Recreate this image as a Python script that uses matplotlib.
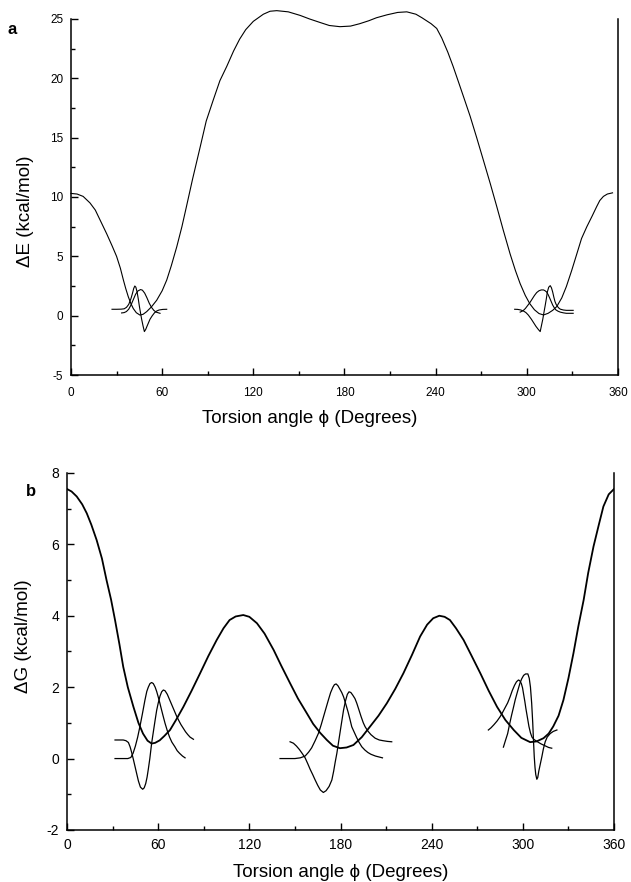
import matplotlib
matplotlib.use("Agg")
import matplotlib.pyplot as plt
from matplotlib.ticker import MultipleLocator

plt.rcParams["font.family"] = ["Liberation Sans", "DejaVu Sans"]
plt.rcParams["axes.unicode_minus"] = False

# ── panel a: ΔE scan (main) + small overlay curves ──────────────────────
A_MAIN_X = [0, 4, 8, 12.5, 16, 19, 23.5, 27, 30, 32.5, 34.5, 36, 37.7, 39.5, 41, 43, 45.4, 47.5,
            49.8, 53, 56.4, 60, 63, 66, 69.6, 73, 76, 80, 85, 89, 93.7, 98, 102.5, 107, 111, 115,
            120, 126.6, 131, 135.4, 143, 150.8, 157, 164, 170, 177, 184, 190, 196, 201, 208,
            215, 221, 227, 231, 234, 237, 240.7, 244, 248, 251.5, 255, 259, 262.7, 267, 271.4,
            276, 280.2, 284.5, 289, 292.5, 295.6, 299, 302, 305, 308, 311, 314, 317, 319.7,
            323, 326, 329.5, 333, 336, 339.5, 343, 346, 348, 350.4, 353, 356.4]
A_MAIN_Y = [10.3, 10.25, 10.05, 9.5, 8.9, 8.1, 6.9, 5.9, 5.0, 4.0, 3.0, 2.3, 1.6, 1.0, 0.6, 0.25, 0.05, 0.12,
            0.34, 0.75, 1.3, 2.1, 3.0, 4.2, 5.8, 7.5, 9.2, 11.5, 14.2, 16.4, 18.2, 19.8, 21.0, 22.3, 23.3, 24.1,
            24.8, 25.4, 25.65, 25.7, 25.6, 25.3, 25.0, 24.7, 24.45, 24.35, 24.4, 24.6, 24.85, 25.1, 25.35,
            25.55, 25.6, 25.4, 25.1, 24.85, 24.6, 24.2, 23.4, 22.2, 21.0, 19.7, 18.2, 16.8, 15.0, 13.1,
            11.1, 9.2, 7.2, 5.2, 3.8, 2.7, 1.7, 1.0, 0.5, 0.18, 0.06, 0.2, 0.45, 0.77,
            1.5, 2.45, 3.8, 5.25, 6.5, 7.5, 8.4, 9.2, 9.7, 10.05, 10.25, 10.35]

A_L1_X = [27, 30, 33, 35, 36.5, 38, 39.5, 40.5, 41.3, 42, 42.7, 43.5, 44.3, 45, 45.8, 46.5, 47.4,
          48.3, 49.2, 50, 51, 52, 53.5, 55, 56.5, 58, 60.5, 63]
A_L1_Y = [0.54, 0.54, 0.55, 0.58, 0.7, 0.95, 1.45, 1.9, 2.3, 2.5, 2.4, 2.0, 1.4, 0.8, 0.2, -0.3, -0.85,
          -1.34, -1.15, -0.9, -0.6, -0.3, 0.0, 0.25, 0.4, 0.48, 0.53, 0.54]
A_L2_X = [33.3, 35, 36.5, 38, 39.5, 41, 42.5, 44, 45.8, 47, 48.5, 50, 51.5, 53, 54.5, 56, 58.6]
A_L2_Y = [0.23, 0.26, 0.35, 0.55, 0.9, 1.35, 1.8, 2.08, 2.2, 2.15, 1.9, 1.5, 1.05, 0.7, 0.45, 0.3, 0.2]

A_R1_X = [292, 294, 296, 298, 299.5, 301, 303, 304.5, 306, 307.5, 308.8, 309.6, 310.5, 311.3, 312,
          312.8, 313.5, 314.4, 315.4, 316.2, 317, 317.8, 318.5, 319.3, 320, 321, 322, 324, 326, 330.5]
A_R1_Y = [0.54, 0.53, 0.48, 0.38, 0.25, 0.05, -0.3, -0.6, -0.9, -1.15, -1.34, -0.85, -0.3, 0.3, 0.8,
          1.4, 2.0, 2.4, 2.53, 2.35, 2.0, 1.55, 1.2, 0.95, 0.8, 0.65, 0.55, 0.48, 0.45, 0.45]
A_R2_X = [295.6, 297.5, 299, 300.5, 302, 303.5, 305, 306.5, 308, 309.5, 311, 312, 313, 314, 315,
          316, 317, 318, 319, 320.5, 322, 324, 326, 330.5]
A_R2_Y = [0.3, 0.42, 0.6, 0.85, 1.1, 1.4, 1.7, 1.95, 2.1, 2.17, 2.17, 2.1, 2.0, 1.78, 1.5,
          1.2, 0.9, 0.68, 0.5, 0.38, 0.3, 0.24, 0.2, 0.2]

# ── panel b: ΔG scan (main) + small overlay curves ──────────────────────
B_MAIN_X = [0, 3, 6.4, 10, 13, 16, 19.5, 23, 26, 29, 31.6, 34.5, 37, 40, 43.7, 47, 50, 53, 55.7, 58,
            61, 64, 67.8, 72, 76.6, 82, 87.6, 93, 98.5, 103, 107, 111, 116, 120, 125, 130, 136, 141,
            146.8, 152, 157.8, 162, 166.6, 171, 175, 179.6, 184, 188.5, 194, 199.5, 205, 210.5, 216,
            221.4, 227, 232.4, 237, 241, 245, 248.5, 252, 256, 261, 266, 272, 277.5, 283, 288.5,
            294, 299, 304.8, 309, 313.6, 317, 320, 323.5, 326.7, 330, 333.3, 336.5, 340, 343,
            346.5, 350, 353, 356.5, 360]
B_MAIN_Y = [7.55, 7.48, 7.34, 7.12, 6.87, 6.55, 6.12, 5.6, 5.0, 4.45, 3.88, 3.2, 2.57, 2.0, 1.45, 1.0, 0.7,
            0.5, 0.42, 0.44, 0.51, 0.63, 0.8, 1.1, 1.45, 1.9, 2.39, 2.87, 3.32, 3.65, 3.88, 3.98, 4.02,
            3.97, 3.79, 3.5, 3.04, 2.6, 2.11, 1.68, 1.27, 0.97, 0.72, 0.52, 0.36, 0.29, 0.31, 0.38, 0.6,
            0.9, 1.2, 1.55, 1.95, 2.39, 2.9, 3.42, 3.75, 3.93, 4.0, 3.97, 3.88, 3.65, 3.32, 2.9, 2.39,
            1.9, 1.45, 1.08, 0.8, 0.58, 0.46, 0.48, 0.57, 0.7, 0.9, 1.2, 1.64, 2.25, 2.95, 3.7, 4.44,
            5.2, 5.94, 6.55, 7.06, 7.4, 7.55]

B_60G_X = [31.6, 36, 40, 42, 43.5, 45, 46.5, 48, 49.6, 51.3, 52.5, 53.5, 54.6, 55.7, 56.8, 58, 59, 60,
           61, 62, 63.2, 64.5, 66, 67.5, 69, 71, 72.5, 74, 76, 77.7]
B_60G_Y = [0.0, 0.0, 0.0, 0.03, 0.15, 0.35, 0.6, 0.9, 1.25, 1.64, 1.88, 2.0, 2.1, 2.13, 2.1, 2.0, 1.88, 1.73,
           1.57, 1.4, 1.2, 0.99, 0.78, 0.6, 0.46, 0.33, 0.22, 0.15, 0.07, 0.02]
B_60D_X = [31.6, 35, 37, 38.8, 40.4, 41.5, 42.5, 43.7, 44.8, 46, 47, 48.3, 49.8, 50.8, 51.8, 52.7, 53.5,
           54.5, 55.7, 57, 58, 59, 60, 61.2, 62.3, 63.4, 64.5, 66, 67.5, 69, 70.5, 72, 73.5, 75, 76.5,
           78, 79.5, 81, 83.2]
B_60D_Y = [0.52, 0.52, 0.52, 0.5, 0.45, 0.33, 0.18, -0.03, -0.23, -0.45, -0.63, -0.8, -0.86, -0.82, -0.7,
           -0.52, -0.3, 0.0, 0.43, 0.8, 1.08, 1.35, 1.55, 1.75, 1.87, 1.92, 1.9, 1.8, 1.65, 1.5, 1.35,
           1.2, 1.07, 0.95, 0.85, 0.75, 0.67, 0.6, 0.54]

B_180G_X = [140.2, 146, 150, 153.5, 156.7, 159, 161, 163.3, 165.5, 167.3, 169, 170.5, 172, 173.5, 175,
            176, 177.1, 178.3, 179.5, 180.8, 182, 183.5, 185, 186.2, 187.4, 189, 190.5, 192, 194, 196,
            198, 200, 203, 207.6]
B_180G_Y = [0.0, 0.0, 0.0, 0.02, 0.07, 0.18, 0.3, 0.5, 0.71, 0.95, 1.2, 1.42, 1.64, 1.85, 2.0,
            2.07, 2.09, 2.04, 1.95, 1.85, 1.73, 1.52, 1.3, 1.1, 0.89, 0.74, 0.6, 0.47, 0.33, 0.24,
            0.17, 0.12, 0.07, 0.02]
B_180D_X = [146.8, 149, 151, 153, 155, 156.7, 158.5, 160, 161.7, 163.3, 165, 166.7, 168.7, 170.5, 172.5,
            174.3, 175.5, 176.5, 177.6, 178.6, 180.3, 182, 183.3, 184.5, 185.6, 186.8, 188, 189.5,
            190.7, 192, 193.5, 195, 196.2, 198, 200, 202.8, 205.5, 208, 211, 213.7]
B_180D_Y = [0.47, 0.43, 0.35, 0.25, 0.13, 0.02, -0.15, -0.3, -0.45, -0.6, -0.75, -0.88, -0.95, -0.9, -0.78,
            -0.6, -0.35, -0.1, 0.15, 0.43, 0.9, 1.36, 1.62, 1.8, 1.87, 1.85, 1.78, 1.68,
            1.55, 1.38, 1.18, 1.0, 0.89, 0.77, 0.67, 0.57, 0.52, 0.5, 0.48, 0.47]

B_300G_X = [277.3, 279, 281, 283, 285, 286.5, 288, 290, 291.6, 293, 294.5, 295.8, 297.1, 298, 299,
            299.8, 300.5, 301.3, 302, 303, 304, 305, 306, 307.2, 308.5, 310, 312, 314, 315.5, 317, 319]
B_300G_Y = [0.8, 0.86, 0.95, 1.05, 1.17, 1.28, 1.4, 1.56, 1.73, 1.9, 2.05, 2.15, 2.2, 2.18, 2.1,
            1.98, 1.8, 1.6, 1.4, 1.15, 0.9, 0.72, 0.6, 0.54, 0.5, 0.46, 0.41, 0.37, 0.34, 0.31, 0.29]
B_300D_X = [287.2, 288.5, 290, 291.2, 292.5, 293.8, 295, 296.5, 298, 299.2, 300.5, 301.8, 303.3, 304.2,
            305, 305.8, 306.5, 307, 307.5, 308, 308.5, 309.2, 309.8, 310.5, 311.5, 312.5, 313.5,
            314.7, 316, 318, 320, 322.4]
B_300D_Y = [0.32, 0.5, 0.7, 0.95, 1.2, 1.43, 1.65, 1.88, 2.1, 2.23, 2.33, 2.37, 2.37, 2.25,
            2.0, 1.55, 1.0, 0.5, 0.05, -0.25, -0.45, -0.58, -0.53, -0.35, -0.15, 0.05, 0.27,
            0.47, 0.6, 0.7, 0.76, 0.8]


def style_axes(ax, ylim, ymaj, ymin, ylabel, tick_size, xpad, xlab_xy, ylab_xy):
    ax.set_xlim(0, 360)
    ax.set_ylim(*ylim)
    ax.xaxis.set_major_locator(MultipleLocator(60))
    ax.xaxis.set_minor_locator(MultipleLocator(30))
    ax.yaxis.set_major_locator(MultipleLocator(ymaj))
    ax.yaxis.set_minor_locator(MultipleLocator(ymin))
    ax.spines["top"].set_visible(False)
    for s in ("left", "bottom", "right"):
        ax.spines[s].set_linewidth(1.1)
    ax.tick_params(which="both", direction="in", labelsize=tick_size, width=1.0)
    ax.tick_params(which="major", length=5)
    ax.tick_params(which="minor", length=3)
    ax.tick_params(axis="x", pad=xpad)
    ax.tick_params(axis="y", pad=5.5)
    ax.set_xlabel("Torsion angle \u03d5 (Degrees)", fontsize=13.5)
    ax.set_ylabel(ylabel, fontsize=13.5)
    ax.xaxis.set_label_coords(*xlab_xy)
    ax.yaxis.set_label_coords(*ylab_xy)


fig = plt.figure(figsize=(6.31, 8.82), dpi=100)
ax1 = fig.add_axes([0.1125, 0.5748, 0.8669, 0.4037])
ax2 = fig.add_axes([0.1062, 0.0590, 0.8669, 0.4048])

lw_a = 0.8
# main ΔE curve rises a little above the 25 tick, so let it run past the frame
ax1.plot(A_MAIN_X, A_MAIN_Y, c="k", lw=lw_a, clip_on=False)
for xs, ys in [(A_L1_X, A_L1_Y), (A_L2_X, A_L2_Y), (A_R1_X, A_R1_Y), (A_R2_X, A_R2_Y)]:
    ax1.plot(xs, ys, c="k", lw=lw_a)
style_axes(ax1, (-5, 25), 5, 2.5, "\u0394E (kcal/mol)", 8.5, 8.5,
           (0.437, -0.098), (-0.068, 0.46))

ax2.plot(B_MAIN_X, B_MAIN_Y, c="k", lw=1.3)
for xs, ys in [(B_60G_X, B_60G_Y), (B_60D_X, B_60D_Y), (B_180G_X, B_180G_Y),
               (B_180D_X, B_180D_Y), (B_300G_X, B_300G_Y), (B_300D_X, B_300D_Y)]:
    ax2.plot(xs, ys, c="k", lw=0.9)
style_axes(ax2, (-2, 8), 2, 1, "\u0394G (kcal/mol)", 10, 6,
           (0.501, -0.095), (-0.064, 0.543))

fig.text(0.02, 0.967, "a", fontsize=12, fontweight="bold", ha="center", va="center")
fig.text(0.049, 0.443, "b", fontsize=12, fontweight="bold", ha="center", va="center")

fig.savefig("out.png", dpi=100)
